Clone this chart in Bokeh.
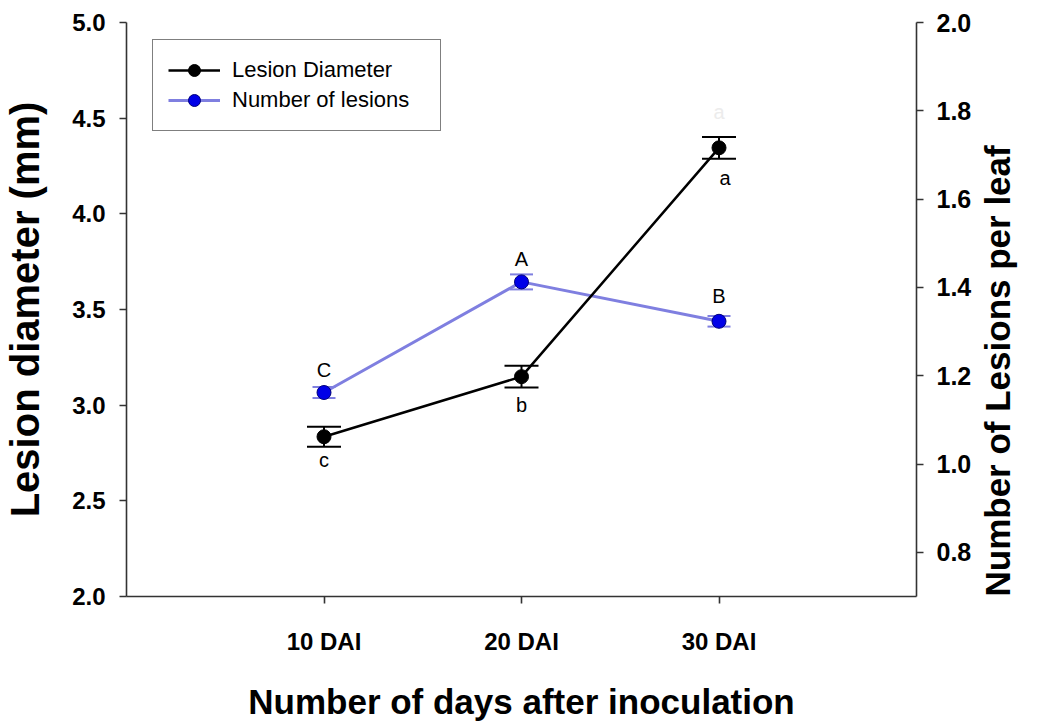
import math

from bokeh.plotting import figure
from bokeh.models import (Range1d, LinearAxis, FixedTicker, PrintfTickFormatter,
                          Whisker, TeeHead, ColumnDataSource, Legend, LegendItem)
from bokeh.core.properties import value
from bokeh.embed import file_html
from bokeh.resources import INLINE

# --- data -------------------------------------------------------------
days = [10, 20, 30]
day_labels = ["10 DAI", "20 DAI", "30 DAI"]

diameter = [2.835, 3.149, 4.345]          # lesion diameter (mm)
diameter_err = [0.052, 0.057, 0.057]
diameter_letters = ["c", "b", "a"]

lesions = [1.162, 1.4125, 1.3233]        # lesions per leaf
lesions_err = [0.0125, 0.017, 0.012]
lesion_letters = ["C", "A", "B"]

left_ticks = [2.0, 2.5, 3.0, 3.5, 4.0, 4.5, 5.0]
right_ticks = [0.8, 1.0, 1.2, 1.4, 1.6, 1.8, 2.0]

left_title = "Lesion diameter (mm)"
right_title = "Number of Lesions per leaf"
bottom_title = "Number of days after inoculation"

# --- styling ----------------------------------------------------------
FONT = "Liberation Sans"
BLUE_LINE = "#7f7fe0"
BLUE_DOT = "#0000e8"
AXIS_COLOR = "#333333"

# letter placement relative to each point (screen px)
diam_dx = [0, 0, 6]
diam_dy = [23, 28, 30]
les_dx = [0, 0, 0]
les_dy = [-23, -23, -25]

p = figure(width=1039, height=723,
           x_range=Range1d(0, 40), y_range=Range1d(2.0, 5.0),
           output_backend="svg", toolbar_location=None,
           min_border_left=126, min_border_right=122,
           min_border_top=22, min_border_bottom=119)
p.extra_y_ranges = {"count": Range1d(0.7, 2.0)}
p.xgrid.visible = False
p.ygrid.visible = False
p.outline_line_color = None
p.background_fill_color = "white"
p.border_fill_color = "white"


def style_axis(ax, label_size, label_standoff, title_size, title_standoff):
    ax.axis_line_color = AXIS_COLOR
    ax.axis_line_width = 1.6
    ax.major_tick_line_color = AXIS_COLOR
    ax.major_tick_line_width = 1.6
    ax.major_tick_out = 7
    ax.major_tick_in = 0
    ax.minor_tick_line_color = None
    ax.major_label_text_font = FONT
    ax.major_label_text_font_style = "bold"
    ax.major_label_text_font_size = label_size
    ax.major_label_text_color = "black"
    ax.major_label_standoff = label_standoff
    ax.axis_label_text_font = FONT
    ax.axis_label_text_font_style = "bold"
    ax.axis_label_text_color = "black"
    ax.axis_label_text_font_size = title_size
    ax.axis_label_standoff = title_standoff


# left axis
yl = p.yaxis[0]
yl.ticker = FixedTicker(ticks=left_ticks)
yl.formatter = PrintfTickFormatter(format="%.1f")
yl.axis_label = left_title
style_axis(yl, "24px", 14, "40px", 22)

# bottom axis
xb = p.xaxis[0]
xb.ticker = FixedTicker(ticks=days)
xb.major_label_overrides = {d: lab for d, lab in zip(days, day_labels)}
xb.axis_label = bottom_title
style_axis(xb, "24px", 24, "35px", 24)

# right axis; its title reads bottom-to-top like the left one and starts
# from the lower end of the axis
yr = LinearAxis(y_range_name="count", ticker=FixedTicker(ticks=right_ticks),
                formatter=PrintfTickFormatter(format="%.1f"),
                axis_label=right_title)
style_axis(yr, "25px", 13, "35px", 23)
yr.axis_label_orientation = math.pi / 2
try:
    yr.axis_label_align = "start"
except (AttributeError, ValueError):
    pass
p.add_layout(yr, "right")

# --- number of lesions (right scale) ----------------------------------
les_src = ColumnDataSource(dict(
    x=days, y=lesions,
    upper=[v + e for v, e in zip(lesions, lesions_err)],
    lower=[v - e for v, e in zip(lesions, lesions_err)],
    label=lesion_letters, dx=les_dx, dy=les_dy))

les_line = p.line("x", "y", source=les_src, y_range_name="count",
                  line_color=BLUE_LINE, line_width=3)
les_whisk = Whisker(base="x", upper="upper", lower="lower", source=les_src,
                    y_range_name="count", line_color=BLUE_LINE, line_width=2,
                    upper_head=TeeHead(size=23, line_color=BLUE_LINE, line_width=2),
                    lower_head=TeeHead(size=23, line_color=BLUE_LINE, line_width=2))
p.add_layout(les_whisk)
les_dots = p.scatter("x", "y", source=les_src, y_range_name="count", size=14,
                     fill_color=BLUE_DOT, line_color="#00007a", line_width=1)
p.text("x", "y", text="label", source=les_src, y_range_name="count",
       x_offset="dx", y_offset="dy", text_font=value(FONT),
       text_font_size="20px", text_align="center", text_baseline="middle",
       text_color="black")

# --- lesion diameter (left scale) -------------------------------------
diam_src = ColumnDataSource(dict(
    x=days, y=diameter,
    upper=[v + e for v, e in zip(diameter, diameter_err)],
    lower=[v - e for v, e in zip(diameter, diameter_err)],
    label=diameter_letters, dx=diam_dx, dy=diam_dy))

diam_line = p.line("x", "y", source=diam_src, line_color="black", line_width=2.5)
diam_whisk = Whisker(base="x", upper="upper", lower="lower", source=diam_src,
                     line_color="black", line_width=2,
                     upper_head=TeeHead(size=34, line_color="black", line_width=2),
                     lower_head=TeeHead(size=34, line_color="black", line_width=2))
p.add_layout(diam_whisk)
diam_dots = p.scatter("x", "y", source=diam_src, size=14,
                      fill_color="black", line_color="black")
p.text("x", "y", text="label", source=diam_src,
       x_offset="dx", y_offset="dy", text_font=value(FONT),
       text_font_size="20px", text_align="center", text_baseline="middle",
       text_color="black")

# faint leftover letter above the last diameter point
ghost_src = ColumnDataSource(dict(x=days[2:], y=diameter[2:], label=["a"]))
p.text("x", "y", text="label", source=ghost_src, y_offset=-36,
       text_font=value(FONT), text_font_size="20px", text_align="center",
       text_baseline="middle", text_color="#ececec")

# --- legend -----------------------------------------------------------
legend = Legend(items=[
    LegendItem(label="Lesion Diameter", renderers=[diam_line, diam_dots]),
    LegendItem(label="Number of lesions", renderers=[les_line, les_dots]),
], location=(26, 465))
legend.label_text_font = FONT
legend.label_text_font_size = "22px"
legend.label_text_color = "black"
legend.glyph_width = 52
legend.glyph_height = 30
legend.label_height = 30
legend.label_width = 193
legend.label_standoff = 12
legend.spacing = 0
legend.padding = 15
legend.margin = 0
legend.border_line_color = "black"
legend.border_line_width = 1.5
legend.background_fill_color = "white"
legend.background_fill_alpha = 1.0
p.add_layout(legend)

open("out.html", "w").write(file_html(p, INLINE))
